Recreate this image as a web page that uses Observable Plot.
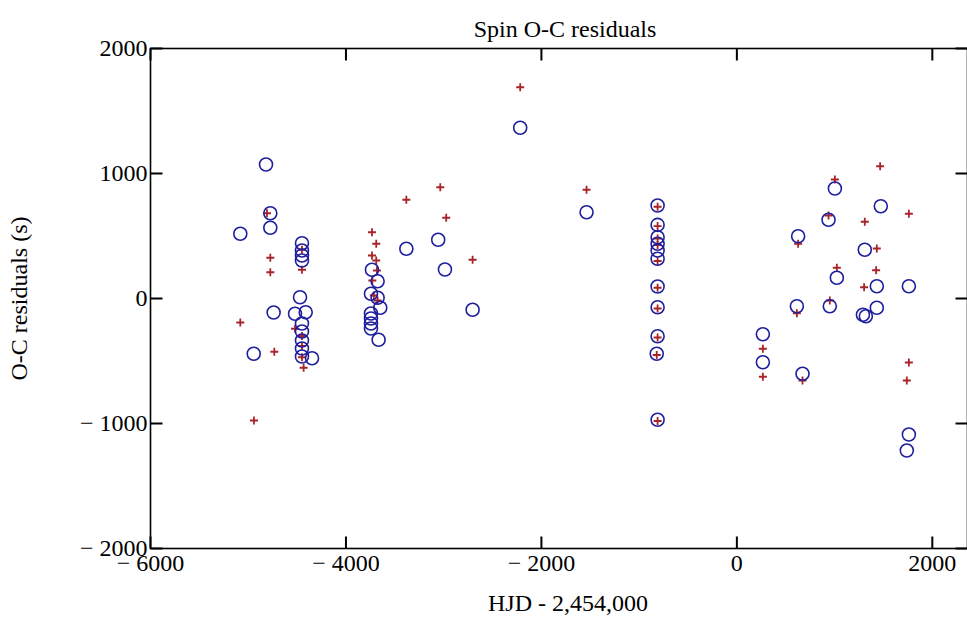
<!DOCTYPE html>
<html>
<head>
<meta charset="utf-8">
<script src="https://cdn.jsdelivr.net/npm/d3@7"></script>
<script src="https://cdn.jsdelivr.net/npm/@observablehq/plot@0.6"></script>
<style>
  html, body { margin: 0; padding: 0; background: #fff; overflow: hidden; }
</style>
</head>
<body>
<div id="chart"></div>
<script>
// Blue open circles: HJD - 2,454,000 and O-C residual (s)
const blueHJD = [
  -5081, -4944, -4818, -4774, -4774, -4740, -4521, -4450, -4450, -4450, -4450, -4470, -4412,
  -4450, -4450, -4450, -4450, -4450, -4347,
  -3734, -3676, -3744, -3676, -3649, -3744, -3744, -3744, -3744, -3666,
  -3382, -3056, -2987, -2704, -2217, -1538,
  -811, -811, -811, -811, -811, -811, -811, -811, -811, -820, -811,
  266, 266, 627, 614, 672, 938, 951, 1003, 1023, 1309, 1290, 1320, 1432, 1432, 1473, 1760, 1760, 1739
];
const blueResid = [
  518, -442, 1072, 682, 566, -112, -122, 442, 384, 344, 304, 10, -110,
  -200, -264, -336, -400, -464, -478,
  230, 138, 38, 6, -74, -120, -160, -200, -240, -330,
  398, 470, 232, -90, 1366, 690,
  744, 589, 490, 438, 384, 318, 96, -70, -302, -442, -970,
  -286, -510, 498, -62, -602, 630, -62, 880, 166, 390, -130, -142, 98, -74, 738, 98, -1088, -1216
];

// Red crosses: HJD - 2,454,000 and O-C residual (s)
const redHJD = [
  -5081, -4941, -4808, -4774, -4774, -4733, -4521, -4450, -4433, -4450, -4450, -4450, -4450,
  -3734, -3690, -3734, -3690, -3683, -3730, -3715, -3676, -3382, -3035, -2974, -2704, -2217, -1538,
  -811, -811, -811, -811, -811, -811, -811, -811, -820, -811,
  266, 266, 627, 614, 672, 938, 951, 1003, 1023, 1309, 1302, 1432, 1425, 1466, 1760, 1760, 1739
];
const redResid = [
  -192, -976, 682, 326, 210, -426, -242, 230, -554, -300, -380, -470, 390,
  530, 438, 344, 304, 224, 144, 24, -16, 790, 890, 646, 310, 1690, 870,
  734, 579, 480, 428, 300, 86, -80, -312, -452, -980,
  -402, -626, 438, -118, -656, 664, -16, 952, 246, 614, 90, 400, 226, 1058, 678, -512, -656
];

const xTicks = [-6000, -4000, -2000, 0, 2000];
const yTicks = [-2000, -1000, 0, 1000, 2000];

const titleText = "Spin O-C residuals";
const xLabel = "HJD - 2,454,000";
const yLabel = "O-C residuals (s)";

const blue = blueHJD.map((x, i) => ({x, y: blueResid[i]}));
const red = redHJD.map((x, i) => ({x, y: redResid[i]}));

const fmt = d => d < 0 ? `\u2212 ${-d}` : `${d}`;
const serif = "'Liberation Serif', 'Times New Roman', serif";

const W = 967, H = 637, ML = 150, MR = 0, MT = 48, MB = 89, TICK = 12;
const yMin = d3.min(yTicks), yMax = d3.max(yTicks);
const tk = {stroke: "black", strokeWidth: 2};

// tick stub symbols for dot marks (length in pixels)
const stubUp = {draw(ctx) { ctx.moveTo(0, 0); ctx.lineTo(0, -TICK); }};
const stubDown = {draw(ctx) { ctx.moveTo(0, 0); ctx.lineTo(0, TICK); }};
const stubRight = {draw(ctx) { ctx.moveTo(0, 0); ctx.lineTo(TICK, 0); }};
const stubLeft = {draw(ctx) { ctx.moveTo(0, 0); ctx.lineTo(-TICK, 0); }};

const chart = Plot.plot({
  width: W,
  height: H,
  marginLeft: ML,
  marginRight: MR,
  marginTop: MT,
  marginBottom: MB,
  style: {fontFamily: serif, fontSize: "24px", background: "white", color: "black"},
  x: {domain: [-6000, 2360], label: null},
  y: {domain: [yMin, yMax], label: null},
  marks: [
    // tick labels
    Plot.axisX(xTicks, {anchor: "bottom", tickSize: 0, tickPadding: 5, tickFormat: fmt, fontSize: 24, label: null}),
    Plot.axisY(yTicks, {anchor: "left", tickSize: 0, tickPadding: 3, tickFormat: fmt, fontSize: 24, label: null}),
    Plot.frame({stroke: "black", strokeWidth: 1.6, fill: "none"}),
    Plot.dot(red, {x: "x", y: "y", symbol: "plus", r: 2.7, stroke: "#a82428", strokeWidth: 1.8}),
    Plot.dot(blue, {x: "x", y: "y", r: 6.5, stroke: "#1f1f9e", strokeWidth: 1.6, fill: "none"}),
    // inward ticks on all four sides, as stub symbols
    Plot.dot(xTicks, {x: d => d, frameAnchor: "bottom", symbol: stubUp, ...tk}),
    Plot.dot(xTicks, {x: d => d, frameAnchor: "top", symbol: stubDown, ...tk}),
    Plot.dot(yTicks, {y: d => d, frameAnchor: "left", symbol: stubRight, ...tk}),
    Plot.dot(yTicks, {y: d => d, frameAnchor: "right", symbol: stubLeft, ...tk}),
    // title and axis labels
    Plot.text([titleText], {frameAnchor: "top", dy: -29, dx: 6, fontSize: 24}),
    Plot.text([xLabel], {frameAnchor: "bottom", dy: 62, dx: 9, fontSize: 24}),
    Plot.text([yLabel], {frameAnchor: "left", dx: -131, rotate: -90, textAnchor: "middle", fontSize: 24})
  ]
});
document.getElementById("chart").appendChild(chart);
</script>
</body>
</html>
